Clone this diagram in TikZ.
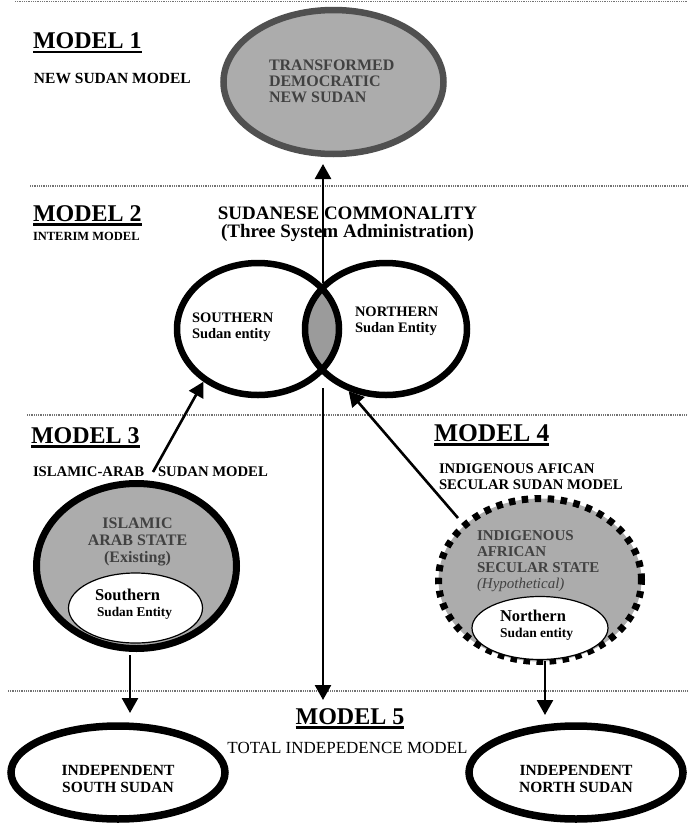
\documentclass[tikz,border=0pt]{standalone}
\usepackage{fontspec}
\setmainfont{Liberation Serif}
\usetikzlibrary{shapes.geometric,arrows.meta}
\definecolor{fillgray}{RGB}{172,172,172}
\definecolor{lensgray}{RGB}{155,155,155}
\definecolor{rimgray}{RGB}{80,80,80}
\definecolor{txtgray}{RGB}{65,65,65}
\definecolor{sepgray}{RGB}{115,115,115}
\newcommand{\myfs}[1]{\fontsize{#1}{#1}\selectfont}
\begin{document}
\begin{tikzpicture}[x=1pt,y=-1pt,
  every node/.style={inner sep=0pt,outer sep=0pt},
  sepline/.style={sepgray,line width=1.3pt,dash pattern=on 1pt off 0.8pt},
  arr/.style={line width=2.6pt,-{Triangle[length=15pt,width=16pt]}},
  uline/.style={line width=2.2pt},
  modeltitle/.style={font=\myfs{24}\bfseries,anchor=base west},
  lbl/.style={font=\myfs{14.7}\bfseries,anchor=base west},
  grayin/.style={font=\myfs{16}\bfseries,text=txtgray},
  vring/.style={ellipse,draw,line width=6.5pt,minimum width=162pt,minimum height=132pt,outer sep=3.25pt},
  inner/.style={ellipse,draw,fill=white,line width=1.2pt},
  indep/.style={ellipse,draw,line width=7.5pt,minimum width=214pt,minimum height=93pt,outer sep=3.75pt},
  indtxt/.style={font=\myfs{15.5}\bfseries,anchor=base}
]
\useasboundingbox (0,0) rectangle (688,825);

% separators
\draw[sepline] (15,1.5) -- (688,1.5);
\draw[sepline] (30,186) -- (688,186);
\draw[sepline] (27,415) -- (688,415);
\draw[sepline] (8,691) -- (688,691);

% ---------- MODEL 1
\node[modeltitle] (m1) at (33,48.5) {MODEL 1};
\draw[uline] ([yshift=-3.5pt]m1.base west) -- ([yshift=-3.5pt]m1.base east);
\node[font=\myfs{15.5}\bfseries,anchor=base west] (m1s) at (34,83) {NEW SUDAN MODEL};
\node[ellipse,draw=rimgray,fill=fillgray,line width=6.5pt,minimum width=220pt,minimum height=144pt,outer sep=3.25pt] (e1) at (333.5,82) {};
\node[grayin,anchor=base west] (e1a) at (269,70) {TRANSFORMED};
\node[grayin,anchor=base west] (e1b) at (269,86) {DEMOCRATIC};
\node[grayin,anchor=base west] (e1c) at (269,102) {NEW SUDAN};

% ---------- MODEL 2
\node[modeltitle] (m2) at (33,221) {MODEL 2};
\draw[uline] ([yshift=-3.5pt]m2.base west) -- ([yshift=-3.5pt]m2.base east);
\node[font=\myfs{12.5}\bfseries,anchor=base west] (m2s) at (33,240) {INTERIM MODEL};
\node[font=\myfs{19}\bfseries,anchor=base] (sc1) at (347.5,219) {SUDANESE COMMONALITY};
\node[font=\myfs{19}\bfseries,anchor=base] (sc2) at (347.5,237) {(Three System Administration)};

\begin{scope}
  \clip (258,329) ellipse [x radius=81pt,y radius=66pt];
  \fill[lensgray] (386,329) ellipse [x radius=81pt,y radius=66pt];
\end{scope}
\node[vring] (vL) at (258,329) {};
\node[vring] (vR) at (386,329) {};
\node[font=\myfs{14.5}\bfseries,anchor=base west] (vLa) at (192,322) {SOUTHERN};
\node[font=\myfs{14.5}\bfseries,anchor=base west] (vLb) at (192,338) {Sudan entity};
\node[font=\myfs{14.5}\bfseries,anchor=base west] (vRa) at (355,316) {NORTHERN};
\node[font=\myfs{14.5}\bfseries,anchor=base west] (vRb) at (355,332) {Sudan Entity};

\coordinate (lensT) at (323,283);
\coordinate (upTip) at (323,164);
\draw[arr] (lensT) -- (upTip);
\coordinate (downS) at (323,388);
\coordinate (downT) at (323,700);
\draw[arr] (downS) -- (downT);

% ---------- MODEL 3
\node[modeltitle] (m3) at (31,443) {MODEL 3};
\draw[uline] ([yshift=-3.5pt]m3.base west) -- ([yshift=-3.5pt]m3.base east);
\node[lbl] (m3a) at (33,476) {ISLAMIC-ARAB};
\node[lbl] (m3b) at (158,476) {SUDAN MODEL};
\node[ellipse,draw,fill=fillgray,line width=7pt,minimum width=200pt,minimum height=165pt,outer sep=3.5pt] (e3) at (136.5,566) {};
\node[grayin,anchor=base] (e3a) at (137.5,528) {ISLAMIC};
\node[grayin,anchor=base] (e3b) at (137.5,545) {ARAB STATE};
\node[grayin,anchor=base] (e3c) at (137.5,562) {(Existing)};
\node[inner,minimum width=134pt,minimum height=70pt] (i3) at (135.5,608) {};
\node[font=\myfs{16.5}\bfseries,anchor=base west] (i3a) at (95,600) {Southern};
\node[font=\myfs{13.3}\bfseries,anchor=base west] (i3b) at (97,616) {Sudan Entity};
\coordinate (a3s) at (153,472);
\draw[arr] (a3s) -- (vL.-136);

% ---------- MODEL 4
\node[modeltitle,font=\myfs{25.5}\bfseries] (m4) at (434,441) {MODEL 4};
\draw[uline] ([yshift=-3.5pt]m4.base west) -- ([yshift=-3.5pt]m4.base east);
\node[lbl] (m4a) at (439,473) {INDIGENOUS AFICAN};
\node[lbl] (m4b) at (439,489) {SECULAR SUDAN MODEL};
\node[ellipse,draw,fill=fillgray,line width=7pt,dash pattern=on 6.5pt off 6.5pt,minimum width=203pt,minimum height=163pt] (e4) at (540,580) {};
\node[grayin,font=\myfs{15}\bfseries,anchor=base west] (e4a) at (477,540) {INDIGENOUS};
\node[grayin,font=\myfs{15}\bfseries,anchor=base west] (e4b) at (477,556) {AFRICAN};
\node[grayin,font=\myfs{15}\bfseries,anchor=base west] (e4c) at (477,572) {SECULAR STATE};
\node[grayin,font=\myfs{15}\itshape,anchor=base west] (e4d) at (477,588) {(Hypothetical)};
\node[inner,minimum width=136pt,minimum height=63pt] (i4) at (540,628) {};
\node[font=\myfs{16.5}\bfseries,anchor=base west] (i4a) at (500,621) {Northern};
\node[font=\myfs{13.5}\bfseries,anchor=base west] (i4b) at (500,637) {Sudan entity};
\coordinate (a4s) at (458,518);
\draw[arr] (a4s) -- (vR.-121);

% ---------- MODEL 5
\node[modeltitle,anchor=base] (m5) at (350,724) {MODEL 5};
\draw[uline] ([yshift=-3.5pt]m5.base west) -- ([yshift=-3.5pt]m5.base east);
\node[font=\myfs{17},anchor=base] (m5s) at (347.5,753) {TOTAL INDEPEDENCE MODEL};
\node[indep] (s5) at (118,772.5) {};
\node[indtxt] (s5a) at (118,775) {INDEPENDENT};
\node[indtxt] (s5b) at (118,792) {SOUTH SUDAN};
\node[indep] (n5) at (576,772.5) {};
\node[indtxt] (n5a) at (576,775) {INDEPENDENT};
\node[indtxt] (n5b) at (576,792) {NORTH SUDAN};

\coordinate (a5ls) at (130,655);
\coordinate (a5lt) at (130,713);
\draw[arr] (a5ls) -- (a5lt);
\coordinate (a5rs) at (545,661);
\coordinate (a5rt) at (545,715);
\draw[arr] (a5rs) -- (a5rt);
\end{tikzpicture}
\end{document}
